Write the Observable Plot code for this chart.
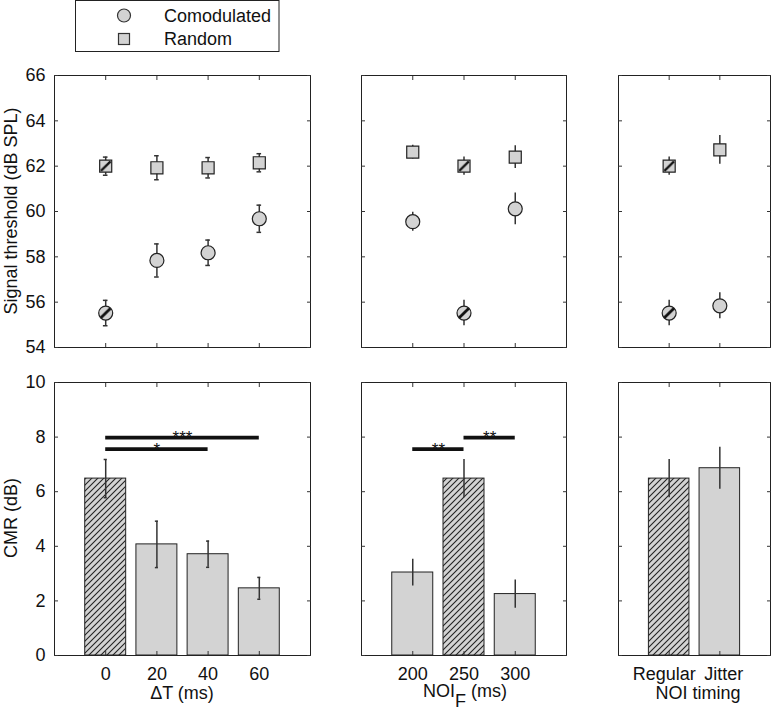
<!DOCTYPE html>
<html><head><meta charset="utf-8">
<script src="https://cdn.jsdelivr.net/npm/d3@7"></script>
<script src="https://cdn.jsdelivr.net/npm/@observablehq/plot@0.6"></script>
<style>
body{margin:0;background:#fff;}
#fig{position:relative;width:772px;height:711px;overflow:hidden;font-family:"Liberation Sans",Arial,sans-serif;background:#fff;}
#fig > svg{position:absolute;}
</style></head><body>
<div id="fig">
<svg width="0" height="0" style="position:absolute;left:0;top:0">
<defs>
<pattern id="hatchBar" patternUnits="userSpaceOnUse" width="6" height="6">
<rect width="6" height="6" fill="#d3d3d3"/>
<path d="M-1,1 L1,-1 M0,6 L6,0 M5,7 L7,5" stroke="#222" stroke-width="1.1"/>
</pattern>
<pattern id="hatchDot" patternUnits="objectBoundingBox" patternContentUnits="objectBoundingBox" width="1" height="1">
<rect width="1" height="1" fill="#d3d3d3"/>
<path d="M0.1,0.9 L0.9,0.1" stroke="#111" stroke-width="0.2"/>
</pattern>
</defs></svg>
</div>
<script>
// ---------- data ----------
const seriesNames = ["Comodulated", "Random"];

const dtLabels = ["0", "20", "40", "60"];
const noiLabels = ["200", "250", "300"];
const timingLabels = ["Regular", "Jitter"];

const thrTicks = [54, 56, 58, 60, 62, 64, 66];
const cmrTicks = [0, 2, 4, 6, 8, 10];

// Signal thresholds (dB SPL), mean and error
const dtComod = [55.52, 57.84, 58.18, 59.68];
const dtComodErr = [0.56, 0.73, 0.56, 0.60];
const dtRandom = [62.0, 61.93, 61.93, 62.15];
const dtRandomErr = [0.40, 0.53, 0.45, 0.40];

const noiComod = [59.55, 55.52, 60.12];
const noiComodErr = [0.42, 0.56, 0.70];
const noiRandom = [62.62, 62.0, 62.40];
const noiRandomErr = [0.30, 0.40, 0.50];

const timComod = [55.52, 55.84];
const timComodErr = [0.56, 0.57];
const timRandom = [62.0, 62.72];
const timRandomErr = [0.40, 0.63];

// CMR (dB)
const dtCMR = [6.48, 4.07, 3.71, 2.46];
const dtCMRErr = [0.70, 0.85, 0.48, 0.40];
const noiCMR = [3.04, 6.48, 2.25];
const noiCMRErr = [0.49, 0.70, 0.52];
const timCMR = [6.48, 6.86];
const timCMRErr = [0.70, 0.77];

// reference (hatched) condition index per panel
const dtRef = 0, noiRef = 1, timRef = 0;

// significance brackets
const dtSig = [{from: 0, to: 2, y: 7.56, label: "*"}, {from: 0, to: 3, y: 7.98, label: "***"}];
const noiSig = [{from: 0, to: 1, y: 7.56, label: "**"}, {from: 1, to: 2, y: 7.98, label: "**"}];

const xTitles = ["ΔT (ms)", null, "NOI timing"];
const yTitles = ["Signal threshold (dB SPL)", "CMR (dB)"];

// ---------- layout ----------
const cols = [{left: 54, w: 256}, {left: 361, w: 205}, {left: 618, w: 152}];
const rowsG = [{top: 75, h: 272}, {top: 382, h: 273}];
const fig = document.getElementById("fig");
const FONT = "Liberation Sans, Arial, Helvetica, sans-serif";
const GRAY = "#d3d3d3";

function rows(labels, v, e, ref) {
  return labels.map((l, i) => ({pos: i + 1, v: v[i], e: e[i], ref: i === ref}));
}

function capsOf(data) {
  return data.flatMap(d => [d.v - d.e, d.v + d.e].map(y => ({pos: d.pos, y})));
}

function panel(c, r, labels, yDomain, yTicks, showX, showY, marks, labelDx) {
  const ml = 60, mr = 10, mt = 10, mb = 30;
  const pos = labels.map((_, i) => i + 1);
  const xText = showX
    ? pos.map((p, i) => Plot.axisX([p], {anchor: "bottom", tickSize: -4, tickPadding: 16, tickFormat: d => labels[d - 1], label: null, stroke: "none", fill: "#111", dx: labelDx ? labelDx[i] : 0}))
    : [];
  const p = Plot.plot({
    width: c.w + ml + mr, height: r.h + mt + mb,
    marginLeft: ml, marginRight: mr, marginTop: mt, marginBottom: mb,
    style: {fontFamily: FONT, fontSize: "18px", background: "transparent", color: "#111", overflow: "visible"},
    x: {domain: [0, labels.length + 1]},
    y: {domain: yDomain},
    marks: [
      ...marks,
      Plot.frame({stroke: "#222"}),
      Plot.axisX(pos, {anchor: "bottom", tickSize: -4, label: null, stroke: "#333", fill: "none"}),
      ...xText,
      Plot.axisX(pos, {anchor: "top", tickSize: -4, label: null, stroke: "#333", fill: "none"}),
      Plot.axisY(yTicks, {anchor: "left", tickSize: -4, tickPadding: 13, label: null, stroke: "#333", fill: showY ? "#111" : "none"}),
      Plot.axisY(yTicks, {anchor: "right", tickSize: -4, label: null, stroke: "#333", fill: "none"})
    ]
  });
  p.style.position = "absolute";
  p.style.left = (c.left - ml) + "px";
  p.style.top = (r.top - mt) + "px";
  fig.appendChild(p);
}

function topMarks(comod, random, caps) {
  const m = [
    Plot.ruleX(random, {x: "pos", y1: d => d.v - d.e, y2: d => d.v + d.e, stroke: "#333", strokeWidth: 1.5}),
    Plot.ruleX(comod, {x: "pos", y1: d => d.v - d.e, y2: d => d.v + d.e, stroke: "#333", strokeWidth: 1.5})
  ];
  if (caps) {
    m.push(Plot.ruleY(capsOf(random).concat(capsOf(comod)), {x1: d => d.pos - 0.045, x2: d => d.pos + 0.045, y: "y", stroke: "#333", strokeWidth: 1.5}));
  }
  m.push(
    Plot.dot(random.filter(d => !d.ref), {x: "pos", y: "v", symbol: "square", r: 6.8, fill: GRAY, stroke: "#222", strokeWidth: 1.2}),
    Plot.dot(random.filter(d => d.ref), {x: "pos", y: "v", symbol: "square", r: 6.8, fill: "url(#hatchDot)", stroke: "#222", strokeWidth: 1.2}),
    Plot.dot(comod.filter(d => !d.ref), {x: "pos", y: "v", r: 7, fill: GRAY, stroke: "#222", strokeWidth: 1.2}),
    Plot.dot(comod.filter(d => d.ref), {x: "pos", y: "v", r: 7, fill: "url(#hatchDot)", stroke: "#222", strokeWidth: 1.2})
  );
  return m;
}

function bottomMarks(data, sig, caps) {
  const m = [
    Plot.rectY(data.filter(d => !d.ref), {x1: d => d.pos - 0.4, x2: d => d.pos + 0.4, y1: 0, y2: "v", fill: GRAY, stroke: "#222", strokeWidth: 1}),
    Plot.rectY(data.filter(d => d.ref), {x1: d => d.pos - 0.4, x2: d => d.pos + 0.4, y1: 0, y2: "v", fill: "url(#hatchBar)", stroke: "#222", strokeWidth: 1}),
    Plot.ruleX(data, {x: "pos", y1: d => d.v - d.e, y2: d => d.v + d.e, stroke: "#333", strokeWidth: 1.5})
  ];
  if (caps) m.push(Plot.ruleY(capsOf(data), {x1: d => d.pos - 0.03, x2: d => d.pos + 0.03, y: "y", stroke: "#333", strokeWidth: 1.5}));
  if (sig) {
    m.push(
      Plot.ruleY(sig, {x1: d => d.from + 1, x2: d => d.to + 1, y: "y", stroke: "#111", strokeWidth: 3.6}),
      Plot.text(sig, {x: d => (d.from + d.to) / 2 + 1, y: "y", text: "label", fontSize: 17, fill: "#111", dy: 0})
    );
  }
  return m;
}

// ---------- panels ----------
panel(cols[0], rowsG[0], dtLabels, [54, 66], thrTicks, false, true,
  topMarks(rows(dtLabels, dtComod, dtComodErr, dtRef), rows(dtLabels, dtRandom, dtRandomErr, dtRef), true));
panel(cols[1], rowsG[0], noiLabels, [54, 66], thrTicks, false, false,
  topMarks(rows(noiLabels, noiComod, noiComodErr, noiRef), rows(noiLabels, noiRandom, noiRandomErr, noiRef), false));
panel(cols[2], rowsG[0], timingLabels, [54, 66], thrTicks, false, false,
  topMarks(rows(timingLabels, timComod, timComodErr, timRef), rows(timingLabels, timRandom, timRandomErr, timRef), false));

panel(cols[0], rowsG[1], dtLabels, [0, 10], cmrTicks, true, true,
  bottomMarks(rows(dtLabels, dtCMR, dtCMRErr, dtRef), dtSig, true));
panel(cols[1], rowsG[1], noiLabels, [0, 10], cmrTicks, true, false,
  bottomMarks(rows(noiLabels, noiCMR, noiCMRErr, noiRef), noiSig, false));
panel(cols[2], rowsG[1], timingLabels, [0, 10], cmrTicks, true, false,
  bottomMarks(rows(timingLabels, timCMR, timCMRErr, timRef), null, false), [-5, 4]);

// ---------- titles and legend (overlay) ----------
const ov = d3.select(fig).append("svg")
  .attr("width", 772).attr("height", 711)
  .style("position", "absolute").style("left", "0px").style("top", "0px")
  .style("font-family", FONT).style("font-size", "18px").attr("fill", "#111");

ov.append("text").attr("transform", "translate(17,211) rotate(-90)").attr("text-anchor", "middle").text(yTitles[0]);
ov.append("text").attr("transform", "translate(17,518) rotate(-90)").attr("text-anchor", "middle").text(yTitles[1]);
ov.append("text").attr("x", 182).attr("y", 699).attr("text-anchor", "middle").text(xTitles[0]);
ov.append("text").attr("x", 698).attr("y", 699).attr("text-anchor", "middle").text(xTitles[2]);
const noiT = ov.append("text").attr("x", 423).attr("y", 697);
noiT.append("tspan").text("NOI");
noiT.append("tspan").attr("dy", 10).text("F");
noiT.append("tspan").attr("dy", -10).text("\u00a0(ms)");

const lg = ov.append("g");
lg.append("rect").attr("x", 75.5).attr("y", 0.5).attr("width", 203.5).attr("height", 51).attr("fill", "#fff").attr("stroke", "#222");
lg.append("circle").attr("cx", 124).attr("cy", 15.5).attr("r", 6.5).attr("fill", GRAY).attr("stroke", "#333").attr("stroke-width", 1.2);
lg.append("rect").attr("x", 118.5).attr("y", 33.5).attr("width", 11).attr("height", 11).attr("fill", GRAY).attr("stroke", "#333").attr("stroke-width", 1.2);
lg.append("text").attr("x", 164).attr("y", 21.5).text(seriesNames[0]);
lg.append("text").attr("x", 164).attr("y", 45).text(seriesNames[1]);
</script>
</body></html>
